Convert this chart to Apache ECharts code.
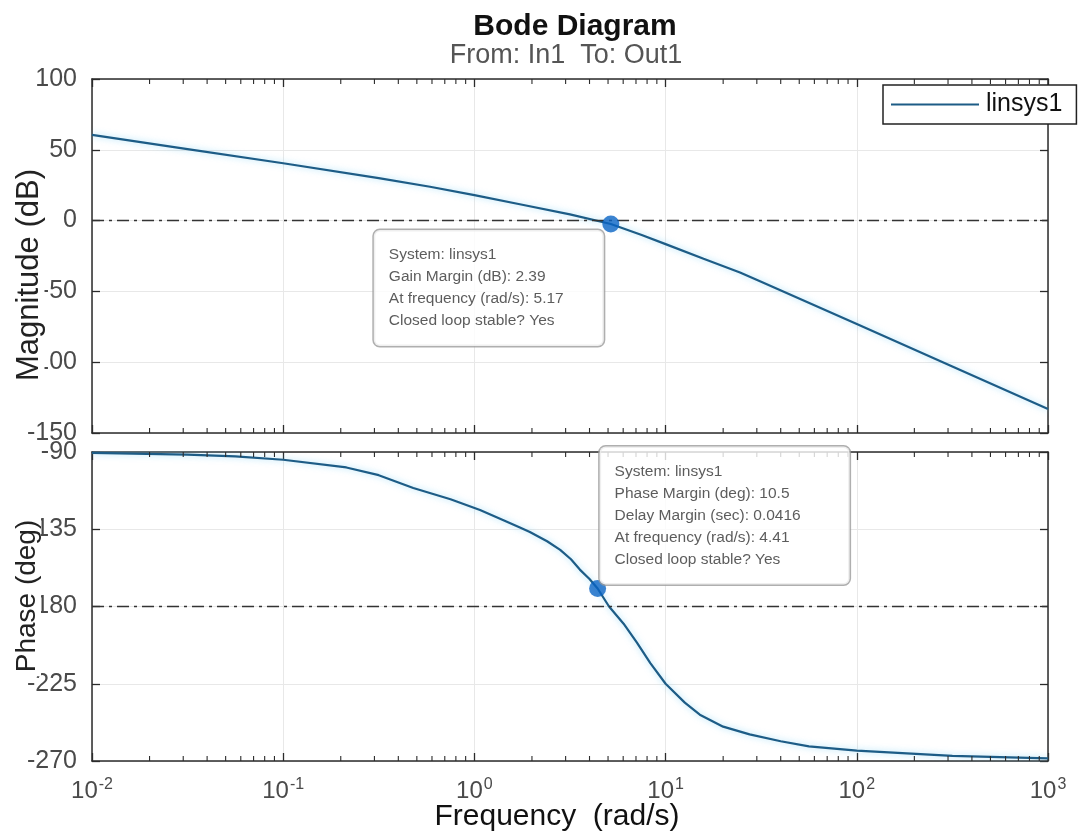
<!DOCTYPE html>
<html>
<head>
<meta charset="utf-8">
<script src="https://cdn.jsdelivr.net/npm/echarts@6/dist/echarts.min.js"></script>
<style>
html,body{margin:0;padding:0;background:#fff;}
#chart{width:1083px;height:840px;}
</style>
</head>
<body>
<div id="chart"></div>
<script>
// ---- data ----
const seriesName = 'linsys1';
const magFreq = [0.01, 0.0316, 0.1, 0.316, 0.586, 1.0, 1.78, 3.16, 5.17, 7.5, 10.0, 15.8, 24.5, 31.6, 100, 316, 1000];
const magDb   = [60.6, 50.5, 40.5, 30.0, 23.9, 18.0, 11.2, 4.4, -2.39, -10.2, -16.6, -27.0, -36.6, -43.2, -73.1, -103, -133];
const phaseFreq = [0.01, 0.0316, 0.0562, 0.1, 0.214, 0.316, 0.479, 0.75, 1.07, 1.4, 1.73, 1.95, 2.4, 2.81, 3.2, 3.56, 4.0, 4.41, 5.06, 6.03, 7.08, 8.32, 10.0, 12.6, 15.1, 20.0, 27.5, 40.0, 56.2, 100, 316, 1000];
const phaseDeg  = [-90.5, -91.5, -92.5, -94.5, -99, -103.5, -111, -117.5, -123.8, -129.5, -134, -136.6, -142, -147, -152.5, -158.5, -164, -169.5, -180, -190, -201, -213, -225, -236, -243, -250, -254.5, -258.5, -261.5, -264, -267, -268.5];
const gainMarginPoint  = [5.17, -2.39];
const phaseMarginPoint = [4.41, -169.5];
const gainTipLines  = ['System: linsys1', 'Gain Margin (dB): 2.39', 'At frequency (rad/s): 5.17', 'Closed loop stable? Yes'];
const phaseTipLines = ['System: linsys1', 'Phase Margin (deg): 10.5', 'Delay Margin (sec): 0.0416', 'At frequency (rad/s): 4.41', 'Closed loop stable? Yes'];
const magTicks = [-150, -100, -50, 0, 50, 100];
const phaseTicks = [-270, -225, -180, -135, -90];
const decadeTicks = [0.01, 0.1, 1, 10, 100];
const minorMultipliers = [2, 3, 4, 5, 6, 7, 8, 9];
const freqMin = 0.01, freqMax = 1000;
const magRef = 0, phaseRef = -180;
const titleText = 'Bode Diagram';
const subtitleText = 'From: In1  To: Out1';
const xName = 'Frequency  (rad/s)';
const magName = 'Magnitude (dB)';
const phaseName = 'Phase (deg)';

// ---- styling ----
const FONT = 'Liberation Sans, Arial, Helvetica, sans-serif';
const axisColor = '#2b2b2b';
const labelColor = '#4a4a4a';
const gridColor = '#e8e8e8';
const curveColor = '#1d5c86';
const markerColor = '#0a64c4';

// minor tick positions on the log frequency axis (axis decoration only)
const minorTickFreqs = [];
decadeTicks.forEach(d => minorMultipliers.forEach(m => minorTickFreqs.push(d * m)));

const chart = echarts.init(document.getElementById('chart'), null, {renderer: 'canvas'});

function xAxisCfg(gridIndex, position, showLabels) {
  const cfg = {
    type: 'log', logBase: 10, min: freqMin, max: freqMax, gridIndex, position,
    axisLine: {show: true, onZero: false, lineStyle: {color: axisColor, width: 1.5}},
    axisTick: {show: true, inside: true, length: 8, lineStyle: {color: axisColor, width: 1.3}},
    splitLine: {show: position === 'bottom', lineStyle: {color: gridColor, width: 1}},
    axisLabel: {show: false}
  };
  if (showLabels) {
    cfg.axisLabel = {
      show: true, margin: 16, color: labelColor, fontFamily: FONT,
      formatter: v => '{b|10}{s|' + Math.round(Math.log10(v)) + '}',
      rich: {
        b: {fontSize: 24, color: labelColor, fontFamily: FONT},
        s: {fontSize: 16, color: labelColor, fontFamily: FONT, verticalAlign: 'bottom', padding: [0, 0, 12, 1]}
      }
    };
    cfg.name = xName;
    cfg.nameLocation = 'middle';
    cfg.nameGap = 41;
    cfg.nameMoveOverlap = false;
    cfg.nameTextStyle = {fontSize: 30, color: '#111', fontFamily: FONT, padding: [0, 26, 0, 0]};
  }
  return cfg;
}

function yAxisCfg(gridIndex, position, min, max, interval, ticks, showLabels) {
  const cfg = {
    type: 'value', gridIndex, position, min, max, interval,
    axisLine: {show: true, lineStyle: {color: axisColor, width: 1.5}},
    axisTick: {show: true, inside: true, length: 8, lineStyle: {color: axisColor, width: 1.3}},
    splitLine: {show: position === 'left', lineStyle: {color: gridColor, width: 1}},
    axisLabel: {show: false}
  };
  if (showLabels) {
    cfg.axisLabel = {
      show: true, margin: 15, color: labelColor, fontSize: 25, fontFamily: FONT,
      formatter: v => ticks.includes(v) ? String(v) : ''
    };
  }
  return cfg;
}

const dashDot = [12, 5, 3, 5];

function minorTickSeries(xIdx, yIdx) {
  return {
    type: 'custom', xAxisIndex: xIdx, yAxisIndex: yIdx, silent: true, z: 4,
    data: minorTickFreqs.map(f => [f]),
    encode: {x: 0},
    clip: false,
    renderItem: (params, api) => {
      const cs = params.coordSys;
      const px = api.coord([api.value(0), 0])[0];
      const style = {stroke: axisColor, lineWidth: 1.1};
      return {
        type: 'group',
        children: [
          {type: 'line', shape: {x1: px, y1: cs.y + cs.height, x2: px, y2: cs.y + cs.height - 5}, style},
          {type: 'line', shape: {x1: px, y1: cs.y, x2: px, y2: cs.y + 5}, style}
        ]
      };
    }
  };
}

const tipBox = {
  show: true, fontFamily: FONT, fontSize: 15.5, color: '#333', lineHeight: 22, align: 'left',
  backgroundColor: '#ffffff', borderColor: '#9b9b9b', borderWidth: 1.5, borderRadius: 6
};

const curveStyle = {color: curveColor, width: 2.2, shadowColor: 'rgba(100,200,245,0.6)', shadowBlur: 6};

const option = {
  animation: false,
  backgroundColor: '#fff',
  title: [
    {text: titleText, left: 570, textAlign: 'center', top: 7,
     textStyle: {fontSize: 30, fontWeight: 'bold', color: '#111', fontFamily: FONT}},
    {text: subtitleText, left: 561, textAlign: 'center', top: 37,
     textStyle: {fontSize: 27, fontWeight: 'normal', color: '#555', fontFamily: FONT}}
  ],
  legend: {
    data: [{name: seriesName, icon: 'rect'}], left: 883, top: 85,
    itemWidth: 88, itemHeight: 2, itemGap: 8,
    padding: [7, 14, 7, 8],
    backgroundColor: '#fff', borderColor: '#222', borderWidth: 1.5, borderRadius: 0,
    textStyle: {fontSize: 25, color: '#111', fontFamily: FONT, padding: [0, 0, 0, 2]}
  },
  grid: [
    {left: 92, top: 79, width: 956, height: 354, containLabel: false, outerBoundsMode: 'none'},
    {left: 92, top: 452, width: 956, height: 309, containLabel: false, outerBoundsMode: 'none'}
  ],
  xAxis: [
    xAxisCfg(0, 'bottom', false),
    xAxisCfg(0, 'top', false),
    xAxisCfg(1, 'bottom', true),
    xAxisCfg(1, 'top', false)
  ],
  yAxis: [
    yAxisCfg(0, 'left', -150, 100, 50, magTicks, true),
    yAxisCfg(0, 'right', -150, 100, 50, magTicks, false),
    yAxisCfg(1, 'left', -270, -90, 45, phaseTicks, true),
    yAxisCfg(1, 'right', -270, -90, 45, phaseTicks, false)
  ],
  graphic: [
    {type: 'text', x: 29, y: 275, rotation: Math.PI / 2, z: 100,
     style: {text: magName, fontSize: 31, fontFamily: FONT, fill: '#222', align: 'center', verticalAlign: 'middle',
             backgroundColor: '#fff', padding: [0, 1]}},
    {type: 'text', x: 27, y: 596, rotation: Math.PI / 2, z: 100,
     style: {text: phaseName, fontSize: 28, fontFamily: FONT, fill: '#222', align: 'center', verticalAlign: 'middle',
             backgroundColor: '#fff', padding: [0, 4]}}
  ],
  series: [
    {
      name: seriesName, type: 'line', xAxisIndex: 0, yAxisIndex: 0,
      data: magFreq.map((f, i) => [f, magDb[i]]),
      symbol: 'none', smooth: false,
      lineStyle: curveStyle, itemStyle: {color: curveColor},
      markLine: {
        silent: true, symbol: ['none', 'none'], label: {show: false},
        lineStyle: {color: '#333', width: 1.3, type: dashDot},
        data: [{yAxis: magRef}]
      },
      z: 3
    },
    {
      name: seriesName, type: 'line', xAxisIndex: 2, yAxisIndex: 2,
      data: phaseFreq.map((f, i) => [f, phaseDeg[i]]),
      symbol: 'none', smooth: false,
      lineStyle: curveStyle, itemStyle: {color: curveColor},
      markLine: {
        silent: true, symbol: ['none', 'none'], label: {show: false},
        lineStyle: {color: '#333', width: 1.3, type: dashDot},
        data: [{yAxis: phaseRef}]
      },
      z: 3
    },
    minorTickSeries(0, 0),
    minorTickSeries(2, 2),
    {
      type: 'scatter', xAxisIndex: 0, yAxisIndex: 0, data: [gainMarginPoint],
      symbolSize: 17, itemStyle: {color: markerColor}, z: 5,
      label: Object.assign({}, tipBox, {
        position: [8.5, 8.5], verticalAlign: 'top', offset: [-237, 6],
        width: 200, padding: [14, 15, 14, 15],
        formatter: () => gainTipLines.join('\n')
      })
    },
    {
      type: 'scatter', xAxisIndex: 2, yAxisIndex: 2, data: [phaseMarginPoint],
      symbolSize: 17, itemStyle: {color: markerColor}, z: 5,
      label: Object.assign({}, tipBox, {
        position: [8.5, 8.5], verticalAlign: 'bottom', offset: [2, -4],
        width: 220, padding: [14, 15, 14, 15],
        formatter: () => phaseTipLines.join('\n')
      })
    }
  ]
};

chart.setOption(option);
</script>
</body>
</html>
